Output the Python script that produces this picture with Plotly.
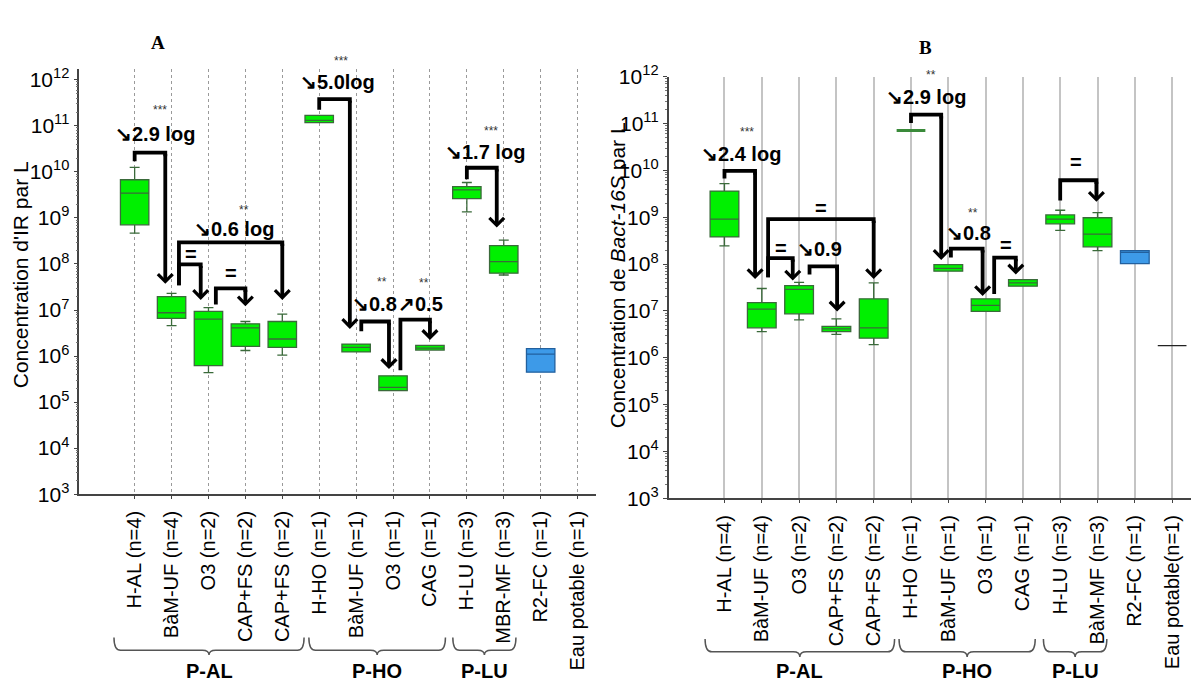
import plotly.graph_objects as go

# ---------------- data (log10 of concentration per L) ----------------
cat_a = ["H-AL (n=4)", "BàM-UF (n=4)", "O3 (n=2)", "CAP+FS (n=2)", "CAP+FS (n=2)",
         "H-HO (n=1)", "BàM-UF (n=1)", "O3 (n=1)", "CAG (n=1)", "H-LU (n=3)",
         "MBR-MF (n=3)", "R2-FC (n=1)", "Eau potable (n=1)"]
cat_b = ["H-AL (n=4)", "BàM-UF (n=4)", "O3 (n=2)", "CAP+FS (n=2)", "CAP+FS (n=2)",
         "H-HO (n=1)", "BàM-UF (n=1)", "O3 (n=1)", "CAG (n=1)", "H-LU (n=3)",
         "BàM-MF (n=3)", "R2-FC (n=1)", "Eau potable(n=1)"]

# Panel A (IR)
a_up  = [10.10, 7.36, 7.05, 6.75, 6.91, 11.23, 6.26, 5.57, 6.23, 9.77, 8.52]
a_q3  = [9.83, 7.29, 6.97, 6.70, 6.75, 11.23, 6.26, 5.57, 6.23, 9.68, 8.40]
a_med = [9.54, 6.94, 6.80, 6.61, 6.37, 11.12, 6.19, 5.32, 6.17, 9.61, 8.05]
a_q1  = [8.85, 6.82, 5.79, 6.21, 6.19, 11.07, 6.09, 5.25, 6.13, 9.42, 7.80]
a_lo  = [8.67, 6.66, 5.64, 6.12, 6.02, 11.07, 6.09, 5.25, 6.13, 9.13, 7.76]
a_ref = [6.16, 6.04, 5.65]          # R2-FC: q3, median, q1

# Panel B (Bact-16S)
b_up  = [9.72, 7.48, 7.61, 6.83, 7.60, 7.99, 7.26, 7.67, 9.15, 9.10]
b_q3  = [9.56, 7.18, 7.54, 6.67, 7.26, 7.99, 7.26, 7.67, 9.05, 8.99]
b_med = [8.96, 7.04, 7.46, 6.62, 6.64, 7.91, 7.12, 7.60, 8.96, 8.64]
b_q1  = [8.58, 6.64, 6.94, 6.56, 6.42, 7.85, 6.99, 7.53, 8.86, 8.37]
b_lo  = [8.39, 6.56, 6.81, 6.50, 6.28, 7.85, 6.99, 7.53, 8.72, 8.29]
b_pos = [1, 2, 3, 4, 5, 7, 8, 9, 10, 11]
b_hho = 10.85                       # H-HO single value
b_ref = [8.29, 8.25, 8.01]          # R2-FC
b_eau = 6.26                        # Eau potable

# comparisons: (from, start, level, to, end)
cmp_a = [(1.0, 10.23, 10.42, 1.83, 7.57), (2.20, 7.54, 7.99, 2.79, 7.22),
         (2.20, 7.54, 8.47, 5.0, 7.22), (3.20, 7.12, 7.47, 4.0, 7.08),
         (6.0, 11.35, 11.58, 6.83, 6.59), (7.14, 6.54, 6.75, 7.89, 5.72),
         (8.20, 5.69, 6.79, 9.0, 6.35), (10.0, 9.84, 10.09, 10.81, 8.79)]
cmp_b = [(1.0, 9.83, 9.99, 1.82, 7.68), (2.17, 7.72, 8.96, 5.0, 7.68),
         (2.17, 7.72, 8.13, 2.83, 7.65), (3.28, 7.78, 7.95, 4.02, 6.99),
         (6.0, 11.01, 11.19, 6.81, 8.09), (7.07, 8.14, 8.33, 7.92, 7.32),
         (8.23, 7.36, 8.14, 8.81, 7.78), (10.0, 9.36, 9.79, 10.97, 9.33)]

lab_a = [("↘2.9 log", 1.55, 10.82), ("=", 2.53, 8.22), ("↘0.6 log", 3.69, 8.77),
         ("=", 3.62, 7.80), ("↘5.0log", 6.49, 11.95), ("↘0.8", 7.50, 7.13),
         ("↗0.5", 8.75, 7.13), ("↘1.7 log", 10.5, 10.44)]
star_a = [("***", 1.7, 11.35), ("**", 3.97, 9.18), ("***", 6.58, 12.41),
          ("**", 7.70, 7.61), ("**", 8.85, 7.59), ("***", 10.65, 10.89)]
lab_b = [("↘2.4 log", 1.43, 10.36), ("=", 3.58, 9.20), ("=", 2.52, 8.35),
         ("↘0.9", 3.55, 8.32), ("↘2.9 log", 6.40, 11.56), ("↘0.8", 7.55, 8.67),
         ("=", 8.56, 8.40), ("=", 10.43, 10.19)]
star_b = [("***", 1.61, 10.81), ("**", 6.54, 12.04), ("**", 7.66, 9.09)]

groups_a = [("P-AL", 0.44, 5.59), ("P-HO", 5.72, 9.42), ("P-LU", 9.62, 11.33)]
groups_b = [("P-AL", 0.48, 5.56), ("P-HO", 5.68, 9.33), ("P-LU", 9.55, 11.25)]

FONT = "Liberation Sans, Arial, sans-serif"
SERIF = "Liberation Serif, Times New Roman, serif"
GREEN = "#00f000"
GREEN_LINE = "#3a6a3a"
BLUE = "#3d9ae8"
BLUE_LINE = "#22609e"
BW = 0.77

Y_DOM_A, Y_RNG_A = [0.2812, 0.9173], [3, 12.23]
Y_DOM_B, Y_RNG_B = [0.2749, 0.9061], [3, 12]


def p(v):
    return [10 ** x for x in v] if isinstance(v, list) else 10 ** v


fig = go.Figure()


def box(x, up, q3, med, q1, lo, fill, line, xa, ya, lw=1.3):
    fig.add_trace(go.Box(x=x, q1=p(q1), median=p(med), q3=p(q3),
                         lowerfence=p(lo), upperfence=p(up), width=BW,
                         whiskerwidth=0.35, fillcolor=fill,
                         line=dict(color=line, width=lw), boxpoints=False,
                         hoverinfo="skip", showlegend=False, xaxis=xa, yaxis=ya))


# Panel A boxes
box(list(range(1, 12)), a_up, a_q3, a_med, a_q1, a_lo, GREEN, GREEN_LINE, "x", "y")
box([12], [a_ref[0]], [a_ref[0]], [a_ref[1]], [a_ref[2]], [a_ref[2]], BLUE, BLUE_LINE, "x", "y")
# Panel B boxes
box(b_pos, b_up, b_q3, b_med, b_q1, b_lo, GREEN, GREEN_LINE, "x2", "y2")
box([6], [b_hho], [b_hho], [b_hho], [b_hho], [b_hho], GREEN, "#3a8a3a", "x2", "y2", lw=3)
box([12], [b_ref[0]], [b_ref[0]], [b_ref[1]], [b_ref[2]], [b_ref[2]], BLUE, BLUE_LINE, "x2", "y2")
box([13], [b_eau], [b_eau], [b_eau], [b_eau], [b_eau], "black", "#222222", "x2", "y2", lw=1.3)

annotations = []


def brackets(cmps, xa, ya):
    for s, st, lv, t, en in cmps:
        fig.add_trace(go.Scatter(x=[s, s, t, t], y=p([st, lv, lv, lv - 0.08]),
                                 mode="lines", line=dict(color="black", width=3.8),
                                 hoverinfo="skip", showlegend=False, xaxis=xa, yaxis=ya))
        annotations.append(dict(x=t, y=en, ax=t, ay=lv, xref=xa, yref=ya,
                                axref=xa, ayref=ya, text="", showarrow=True,
                                arrowhead=4, arrowsize=0.75, arrowwidth=3.8,
                                arrowcolor="black", standoff=0, startstandoff=0))


brackets(cmp_a, "x", "y")
brackets(cmp_b, "x2", "y2")


def place(x, y, xa, ya, dom, rng):
    """Annotations above the axis range are positioned in paper units instead."""
    if y <= rng[1]:
        return dict(x=x, y=y, xref=xa, yref=ya)
    frac = (y - rng[0]) / (rng[1] - rng[0])
    return dict(x=x, y=dom[0] + frac * (dom[1] - dom[0]), xref=xa, yref="paper")


def labels(labs, stars, xa, ya, dom, rng):
    for t, x, y in labs:
        annotations.append(dict(**place(x, y, xa, ya, dom, rng), text=f"<b>{t}</b>",
                                showarrow=False, xanchor="center", yanchor="middle",
                                font=dict(family=FONT, size=20, color="black")))
    for t, x, y in stars:
        annotations.append(dict(**place(x, y, xa, ya, dom, rng), text=t, showarrow=False,
                                xanchor="center", yanchor="middle",
                                font=dict(family=FONT, size=12, color="#333")))


labels(lab_a, star_a, "x", "y", Y_DOM_A, Y_RNG_A)
labels(lab_b, star_b, "x2", "y2", Y_DOM_B, Y_RNG_B)

shapes = []


def braces(groups, xa, ytop, ymid, ybot, ylab):
    r = 0.18
    for name, x0, x1 in groups:
        xc = (x0 + x1) / 2
        path = (f"M {x0},{ytop} Q {x0},{ymid} {x0 + r},{ymid} L {xc - r},{ymid} "
                f"Q {xc},{ymid} {xc},{ybot} Q {xc},{ymid} {xc + r},{ymid} "
                f"L {x1 - r},{ymid} Q {x1},{ymid} {x1},{ytop}")
        shapes.append(dict(type="path", path=path, xref=xa, yref="paper",
                           line=dict(color="#555", width=1.5)))
        annotations.append(dict(x=xc, y=ylab, xref=xa, yref="paper", text=f"<b>{name}</b>",
                                showarrow=False, xanchor="center", yanchor="middle",
                                font=dict(family=FONT, size=20, color="black")))


braces(groups_a, "x", 0.0668, 0.0476, 0.0404, 0.0163)
braces(groups_b, "x2", 0.0645, 0.0452, 0.0375, 0.0163)

# titles
annotations.append(dict(x=0.1323, y=0.957, xref="paper", yref="paper", text="<b>A</b>",
                        showarrow=False, xanchor="center", yanchor="middle",
                        font=dict(family=SERIF, size=19, color="black")))
annotations.append(dict(x=0.7751, y=0.9495, xref="paper", yref="paper", text="<b>B</b>",
                        showarrow=False, xanchor="center", yanchor="middle",
                        font=dict(family=SERIF, size=19, color="black")))
annotations.append(dict(x=0.0168, y=0.609, xref="paper", yref="paper", textangle=-90,
                        xanchor="center", yanchor="middle",
                        text="Concentration d'IR par L", showarrow=False,
                        font=dict(family=FONT, size=21, color="black")))
annotations.append(dict(x=0.5168, y=0.609, xref="paper", yref="paper", textangle=-90,
                        xanchor="center", yanchor="middle",
                        text="Concentration de <i>Bact-16S</i> par L", showarrow=False,
                        font=dict(family=FONT, size=21, color="black")))

exps = list(range(3, 13))
major = [10 ** e for e in exps]
major_txt = [f"10<sup>{e}</sup>" for e in exps]
minor = [k * 10 ** e for e in range(3, 12) for k in range(2, 10)]


def yaxis(domain, rng, anchor):
    return dict(type="log", domain=domain, range=rng, anchor=anchor,
                tickmode="array", tickvals=major, ticktext=major_txt,
                tickfont=dict(family=FONT, size=21, color="black"),
                ticks="outside", ticklen=4, tickcolor="#444", showgrid=False,
                zeroline=False, showline=True, linecolor="#444", linewidth=1.5,
                minor=dict(tickvals=minor, ticks="outside", ticklen=2, tickcolor="#777"))


def xaxis(domain, anchor, labels_, gridcolor, griddash, gw):
    return dict(domain=domain, range=[-0.5, 13.5], anchor=anchor,
                tickmode="array", tickvals=list(range(1, 14)), ticktext=labels_,
                tickangle=-90, tickfont=dict(family=FONT, size=20, color="black"),
                showgrid=True, gridcolor=gridcolor, griddash=griddash, gridwidth=gw,
                zeroline=False, showline=True, linecolor="#444", linewidth=1.5,
                ticks="outside", ticklen=3, tickcolor="#444", ticklabelstandoff=4)


fig.update_layout(
    width=1194, height=693, margin=dict(l=0, r=0, t=0, b=0),
    paper_bgcolor="white", plot_bgcolor="white", boxmode="overlay",
    showlegend=False,
    xaxis=xaxis([0.0664, 0.4992], "y", cat_a, "#9a9a9a", "dot", 1),
    yaxis=yaxis(Y_DOM_A, Y_RNG_A, "x"),
    xaxis2=xaxis([0.5599, 0.9973], "y2", cat_b, "#c4c4c4", "solid", 1.5),
    yaxis2=yaxis(Y_DOM_B, Y_RNG_B, "x2"),
    annotations=annotations, shapes=shapes,
)

fig.write_html("out.html")
